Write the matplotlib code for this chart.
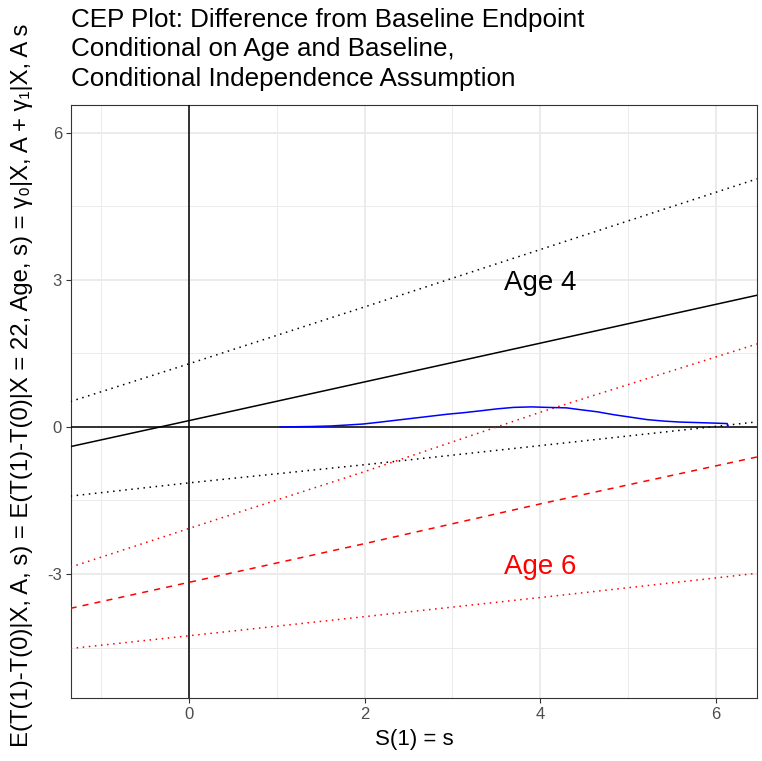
import matplotlib.pyplot as plt
from matplotlib.ticker import MultipleLocator

plt.rcParams['font.family'] = ['Liberation Sans', 'DejaVu Sans']
plt.rcParams['axes.unicode_minus'] = False

# values at a few s positions
s_grid = [-1.35, 0, 2, 4, 6.5]
age4_fit = [-0.40, 0.13, 0.92, 1.71, 2.70]
age4_hi = [0.52, 1.29, 2.45, 3.62, 5.08]
age4_lo = [-1.41, -1.14, -0.77, -0.38, 0.11]
age6_fit = [-3.70, -3.17, -2.38, -1.57, -0.60]
age6_hi = [-2.86, -2.07, -0.91, 0.30, 1.71]
age6_lo = [-4.52, -4.26, -3.87, -3.48, -2.98]

# density of S(1), drawn along the zero line
dens_s = [1.04, 1.40, 1.61, 1.80, 1.98, 2.18, 2.37, 2.56, 2.75, 2.94, 3.12,
          3.32, 3.51, 3.70, 3.90, 4.08, 4.30, 4.47, 4.65, 4.84, 5.03, 5.22,
          5.41, 5.60, 5.79, 5.97, 6.13, 6.14]
dens_y = [0.00, 0.01, 0.02, 0.04, 0.06, 0.10, 0.14, 0.18, 0.22, 0.26, 0.29,
          0.33, 0.37, 0.40, 0.41, 0.40, 0.39, 0.35, 0.31, 0.25, 0.20, 0.15,
          0.12, 0.10, 0.09, 0.08, 0.07, 0.02]

title = ("CEP Plot: Difference from Baseline Endpoint\n"
         "Conditional on Age and Baseline,\n"
         "Conditional Independence Assumption")
ylab = "E(T(1)-T(0)|X, A, s) = E(T(1)-T(0)|X = 22, Age, s) = γ₀|X, A + γ₁|X, A s"

W, H = 762, 761
fig = plt.figure(figsize=(W / 100, H / 100), dpi=100)
ax = fig.add_axes([71 / W, 63 / H, 686 / W, 593 / H])

dot = (0, (1, 3))
dash = (0, (4, 4))
lw = 1.1

ax.axhline(0, color='black', lw=lw, zorder=3)
ax.axvline(0, color='black', lw=lw, zorder=3)

ax.plot(s_grid, age4_fit, color='black', lw=lw, zorder=4)
ax.plot(s_grid, age4_hi, color='black', lw=lw, ls=dot, zorder=4)
ax.plot(s_grid, age4_lo, color='black', lw=lw, ls=dot, zorder=4)
ax.plot(s_grid, age6_fit, color='red', lw=lw, ls=dash, zorder=4)
ax.plot(s_grid, age6_hi, color='red', lw=lw, ls=dot, zorder=4)
ax.plot(s_grid, age6_lo, color='red', lw=lw, ls=dot, zorder=4)
ax.plot(dens_s, dens_y, color='blue', lw=lw, zorder=5)

ax.text(4, 2.80, "Age 4", color='black', fontsize=20, ha='center', va='baseline')
ax.text(4, -3.0, "Age 6", color='red', fontsize=20, ha='center', va='baseline')

ax.set_xlim(-1.345, 6.47)
ax.set_ylim(-5.53, 6.57)
ax.xaxis.set_major_locator(MultipleLocator(2))
ax.xaxis.set_minor_locator(MultipleLocator(1))
ax.yaxis.set_major_locator(MultipleLocator(3))
ax.yaxis.set_minor_locator(MultipleLocator(1.5))
ax.grid(which='major', color='#EBEBEB', lw=1.4, zorder=0)
ax.grid(which='minor', color='#EBEBEB', lw=0.7, zorder=0)
ax.set_axisbelow(True)
ax.tick_params(which='major', length=3.5, width=0.8, color='#333333',
               labelcolor='#4D4D4D', labelsize=12, pad=3)
ax.tick_params(which='minor', length=0)
for sp in ax.spines.values():
    sp.set_color('#333333')
    sp.set_linewidth(0.8)

ax.set_xlabel("S(1) = s", fontsize=16, labelpad=5)

# y label is longer than the panel; fit it to the span seen in the reference
yl = fig.text(22 / W, 1 - 385 / H, ylab, rotation=90, ha='center', va='center',
              fontsize=15)
r = fig.canvas.get_renderer()
h = yl.get_window_extent(r).height
yl.set_fontsize(15 * 725 / h)

fig.text(71 / W, 1 - 8 / H, title, ha='left', va='top', fontsize=18.7,
         linespacing=1.28)

fig.savefig("out.png", dpi=100)
